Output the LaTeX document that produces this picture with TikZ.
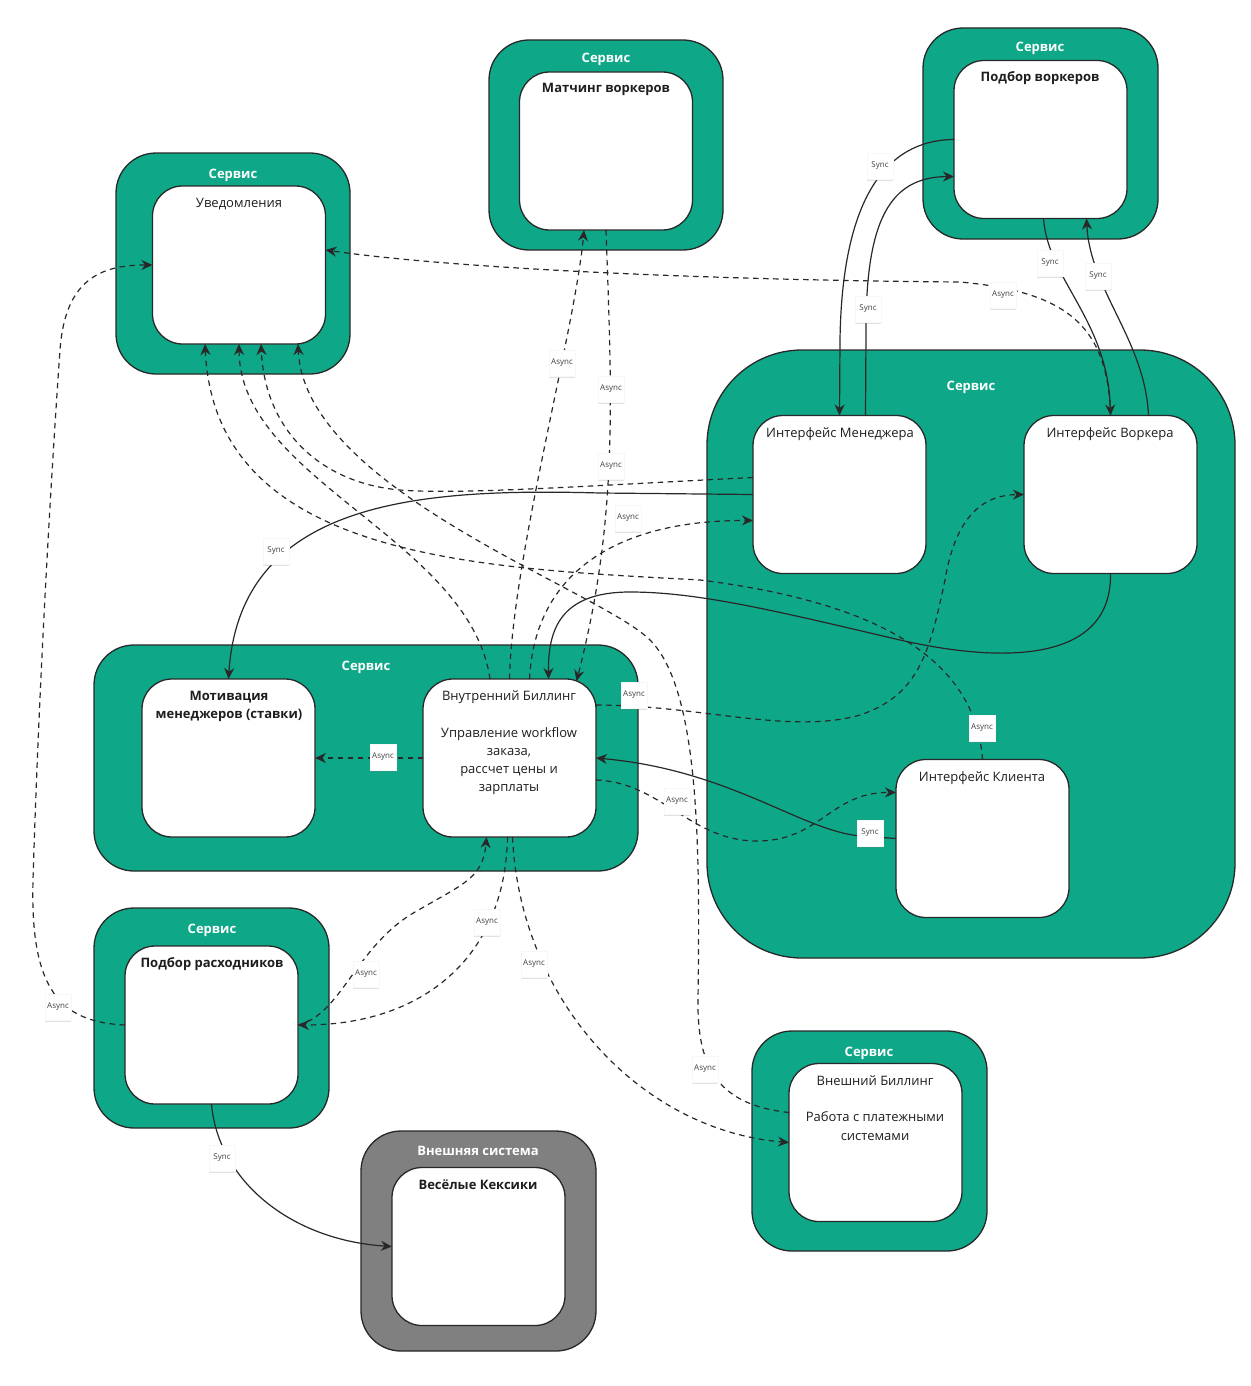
\documentclass[tikz,border=0pt]{standalone}
\usepackage{fontspec}
\setmainfont{Open Sans}
\usetikzlibrary{calc,arrows.meta,shadows}
\definecolor{tealA}{RGB}{14,168,137}
\definecolor{grayA}{RGB}{128,128,128}
\definecolor{edgeA}{RGB}{40,40,40}
\definecolor{txtA}{RGB}{30,30,30}
\begin{document}
\begin{tikzpicture}[x=1pt,y=-1pt,
  outerbox/.style={draw=edgeA, line width=1.3pt, fill=tealA, rounded corners=40pt, inner sep=0pt, outer sep=0pt},
  innerbox/.style={draw=edgeA, line width=1.3pt, fill=white, rounded corners=30pt, minimum width=173pt, minimum height=158pt, inner sep=0pt, outer sep=0pt},
  ttl/.style={text=white, font=\bfseries\fontsize{13}{16}\selectfont, anchor=base, inner sep=0pt},
  itxt/.style={text=txtA, font=\fontsize{13}{16}\selectfont, anchor=base, inner sep=0pt},
  btxt/.style={text=txtA, font=\bfseries\fontsize{13}{16}\selectfont, anchor=base, inner sep=0pt},
  syncline/.style={draw=edgeA, line width=1.2pt},
  asyncline/.style={draw=edgeA, line width=1.2pt, dash pattern=on 5.5pt off 4.5pt},
  arr/.style={-{Stealth[length=11pt,width=10pt,inset=3.5pt]}},
  lbl/.style={fill=white, draw=gray!6, line width=0.3pt, minimum width=26pt, minimum height=26pt, inner sep=0pt, font=\fontsize{8}{9}\selectfont, text=txtA!85, drop shadow={shadow xshift=0pt, shadow yshift=-1.6pt, opacity=0.22, fill=gray}}
]
\fill[white] (0,0) rectangle (1250,1386);
\useasboundingbox (0,0) rectangle (1250,1386);

% ---------- outer service boxes ----------
\node[outerbox, minimum width=234pt, minimum height=221pt] (notifO) at (233,263.5) {};
\node[outerbox, minimum width=234pt, minimum height=210pt] (matchO) at (606,145) {};
\node[outerbox, minimum width=235pt, minimum height=211pt] (podO) at (1040.5,133.5) {};
\node[outerbox, rounded corners=95pt, minimum width=528pt, minimum height=608pt] (bigO) at (971,654) {};
\node[outerbox, minimum width=544pt, minimum height=226pt] (bilO) at (366,758) {};
\node[outerbox, minimum width=235pt, minimum height=220pt] (consO) at (211.5,1018) {};
\node[outerbox, fill=grayA, minimum width=235pt, minimum height=220pt] (kexO) at (478.5,1241) {};
\node[outerbox, minimum width=235pt, minimum height=220pt] (extO) at (869.5,1141) {};

% ---------- inner boxes ----------
\node[innerbox] (notifIn) at (239,265) {};
\node[innerbox] (matchIn) at (606,151) {};
\node[innerbox] (podIn) at (1040.5,139.5) {};
\node[innerbox] (mgr) at (839.5,494.5) {};
\node[innerbox] (wrk) at (1110.5,494.5) {};
\node[innerbox] (cli) at (982.5,838.5) {};
\node[innerbox] (mot) at (228.5,758) {};
\node[innerbox] (bil) at (509.5,758) {};
\node[innerbox] (cons) at (211.5,1025) {};
\node[innerbox] (kex) at (478.5,1246.5) {};
\node[innerbox] (ext) at (875.5,1142.5) {};

% ---------- titles ----------
\node[ttl] (tNotif) at (233,178) {Сервис};
\node[ttl] (tMatch) at (606,63) {Сервис};
\node[ttl] (tPod) at (1040,52) {Сервис};
\node[ttl] (tBig) at (971,390) {Сервис};
\node[ttl] (tBil) at (366,670) {Сервис};
\node[ttl] (tCons) at (212,933) {Сервис};
\node[ttl] (tKex) at (478,1155) {Внешняя система};
\node[ttl] (tExt) at (869,1056) {Сервис};

% ---------- inner texts ----------
\node[itxt] (xNotif) at (239,207) {Уведомления};
\node[btxt] (xMatch) at (606,93) {Матчинг воркеров};
\node[btxt] (xPod) at (1040,82) {Подбор воркеров};
\node[itxt] (xMgr) at (840,437) {Интерфейс Менеджера};
\node[itxt] (xWrk) at (1110,437) {Интерфейс Воркера};
\node[itxt] (xCli) at (982,781) {Интерфейс Клиента};
\node[btxt] (xMot1) at (229,700) {Мотивация};
\node[btxt] (xMot2) at (229,718) {менеджеров (ставки)};
\node[itxt] (xBil1) at (509,700) {Внутренний Биллинг};
\node[itxt] (xBil2) at (509,737) {Управление workflow};
\node[itxt] (xBil3) at (509,755) {заказа,};
\node[itxt] (xBil4) at (509,773) {рассчет цены и};
\node[itxt] (xBil5) at (509,791) {зарплаты};
\node[btxt] (xCons) at (212,967) {Подбор расходников};
\node[btxt] (xKex) at (478,1189) {Весёлые Кексики};
\node[itxt] (xExt1) at (875,1085) {Внешний Биллинг};
\node[itxt] (xExt2) at (875,1121) {Работа с платежными};
\node[itxt] (xExt3) at (875,1140) {системами};

% ---------- connectors ----------
\draw[syncline,arr] (podIn.west) .. controls (885,140) and (842,200) .. (840,340) -- (mgr.north);
\draw[syncline,arr] ($(mgr.north)+(26,0)$) -- (866,330) .. controls (866,220) and (890,177) .. ($(podIn.west)+(0,37)$);
\draw[syncline,arr] ($(podIn.south)+(3,0)$) .. controls (1048,280) and (1108,320) .. (wrk.north);
\draw[syncline,arr] ($(wrk.north)+(38,0)$) .. controls (1145,340) and (1090,290) .. ($(podIn.south)+(46,0)$);
\draw[asyncline,arr] (wrk.north) .. controls (1108,330) and (1072,292) .. (960,282) .. controls (700,280) and (450,268) .. ($(notifIn.east)+(0,-15)$);
\draw[asyncline,arr] (matchIn.south) .. controls (612,400) and (618,520) .. ($(bil.north)+(67,2)$);
\draw[asyncline,arr] (bil.north) .. controls (512,560) and (575,330) .. ($(matchIn.south)+(-22,0)$);
\draw[asyncline,arr] (cli.north) .. controls (975,650) and (860,600) .. (700,580) .. controls (480,568) and (215,560) .. ($(notifIn.south)+(-34,0)$);
\draw[asyncline,arr] ($(bil.north)+(-19.5,0)$) .. controls (470,540) and (240,480) .. (notifIn.south);
\draw[asyncline,arr] ($(mgr.west)+(0,-17)$) .. controls (600,485) and (460,495) .. (400,490) .. controls (320,483) and (265,430) .. ($(notifIn.south)+(22,0)$);
\draw[syncline,arr] (mgr.west) -- (600,493) .. controls (420,488) and (240,500) .. (mot.north);
\draw[asyncline,arr] ($(bil.north)+(20,0)$) .. controls (535,570) and (620,520) .. ($(mgr.west)+(0,26)$);
\draw[syncline,arr] (wrk.south) .. controls (1112,660) and (1010,665) .. (900,640) .. controls (780,612) and (700,592) .. (630,592) .. controls (560,592) and (548,630) .. ($(bil.north)+(39,0)$);
\draw[asyncline,arr] ($(bil.east)+(0,-53)$) .. controls (700,705) and (790,735) .. (860,715) .. controls (920,695) and (930,650) .. (945,580) .. controls (955,520) and (980,495) .. (wrk.west);
\draw[syncline,arr] (cli.west) -- (860,836) .. controls (800,830) and (730,770) .. (bil.east);
\draw[asyncline,arr] ($(bil.east)+(0,22)$) .. controls (660,782) and (690,840) .. (755,841) .. controls (820,842) and (830,792) .. ($(cli.west)+(0,-46)$);
\draw[asyncline,arr] (bil.west) -- (mot.east);
\draw[asyncline,arr] ($(ext.west)+(0,-30)$) .. controls (720,1105) and (697,1070) .. (698,1000) .. controls (700,850) and (700,690) .. (650,640) .. controls (600,590) and (305,490) .. ($(notifIn.south)+(59,0)$);
\draw[asyncline,arr] ($(bil.south)+(3,0)$) .. controls (520,1000) and (640,1130) .. (ext.west);
\draw[asyncline,arr] ($(bil.south)+(-2,0)$) .. controls (505,960) and (420,1025) .. (cons.east);
\draw[asyncline,arr] (cons.east) .. controls (340,1015) and (355,950) .. (410,915) .. controls (460,885) and (483,880) .. ($(bil.south)+(-23,0)$);
\draw[asyncline,arr] (cons.west) .. controls (60,1022) and (30,990) .. (33,880) .. controls (40,650) and (55,420) .. (60,350) .. controls (65,280) and (100,265) .. (notifIn.west);
\draw[syncline,arr] (cons.south) .. controls (218,1180) and (290,1240) .. (kex.west);

% ---------- connector labels ----------
\node[lbl] (l1) at (880,166) {Sync};
\node[lbl] (l2) at (868,309) {Sync};
\node[lbl] (l3) at (1050,263) {Sync};
\node[lbl] (l4) at (1098,276) {Sync};
\node[lbl] (l5) at (1003,295) {Async};
\node[lbl] (l6) at (562,363) {Async};
\node[lbl] (l7) at (611,389) {Async};
\node[lbl] (l8) at (611,466) {Async};
\node[lbl] (l9) at (628,518) {Async};
\node[lbl] (l10) at (276,551) {Sync};
\node[lbl] (l11) at (634,695) {Async};
\node[lbl] (l12) at (982,728) {Async};
\node[lbl] (l13) at (383,757) {Async};
\node[lbl] (l14) at (677,801) {Async};
\node[lbl] (l15) at (870,833) {Sync};
\node[lbl] (l16) at (487,922) {Async};
\node[lbl] (l17) at (366,974) {Async};
\node[lbl] (l18) at (534,964) {Async};
\node[lbl] (l19) at (58,1007) {Async};
\node[lbl] (l20) at (705,1069) {Async};
\node[lbl] (l21) at (222,1158) {Sync};
\end{tikzpicture}
\end{document}
